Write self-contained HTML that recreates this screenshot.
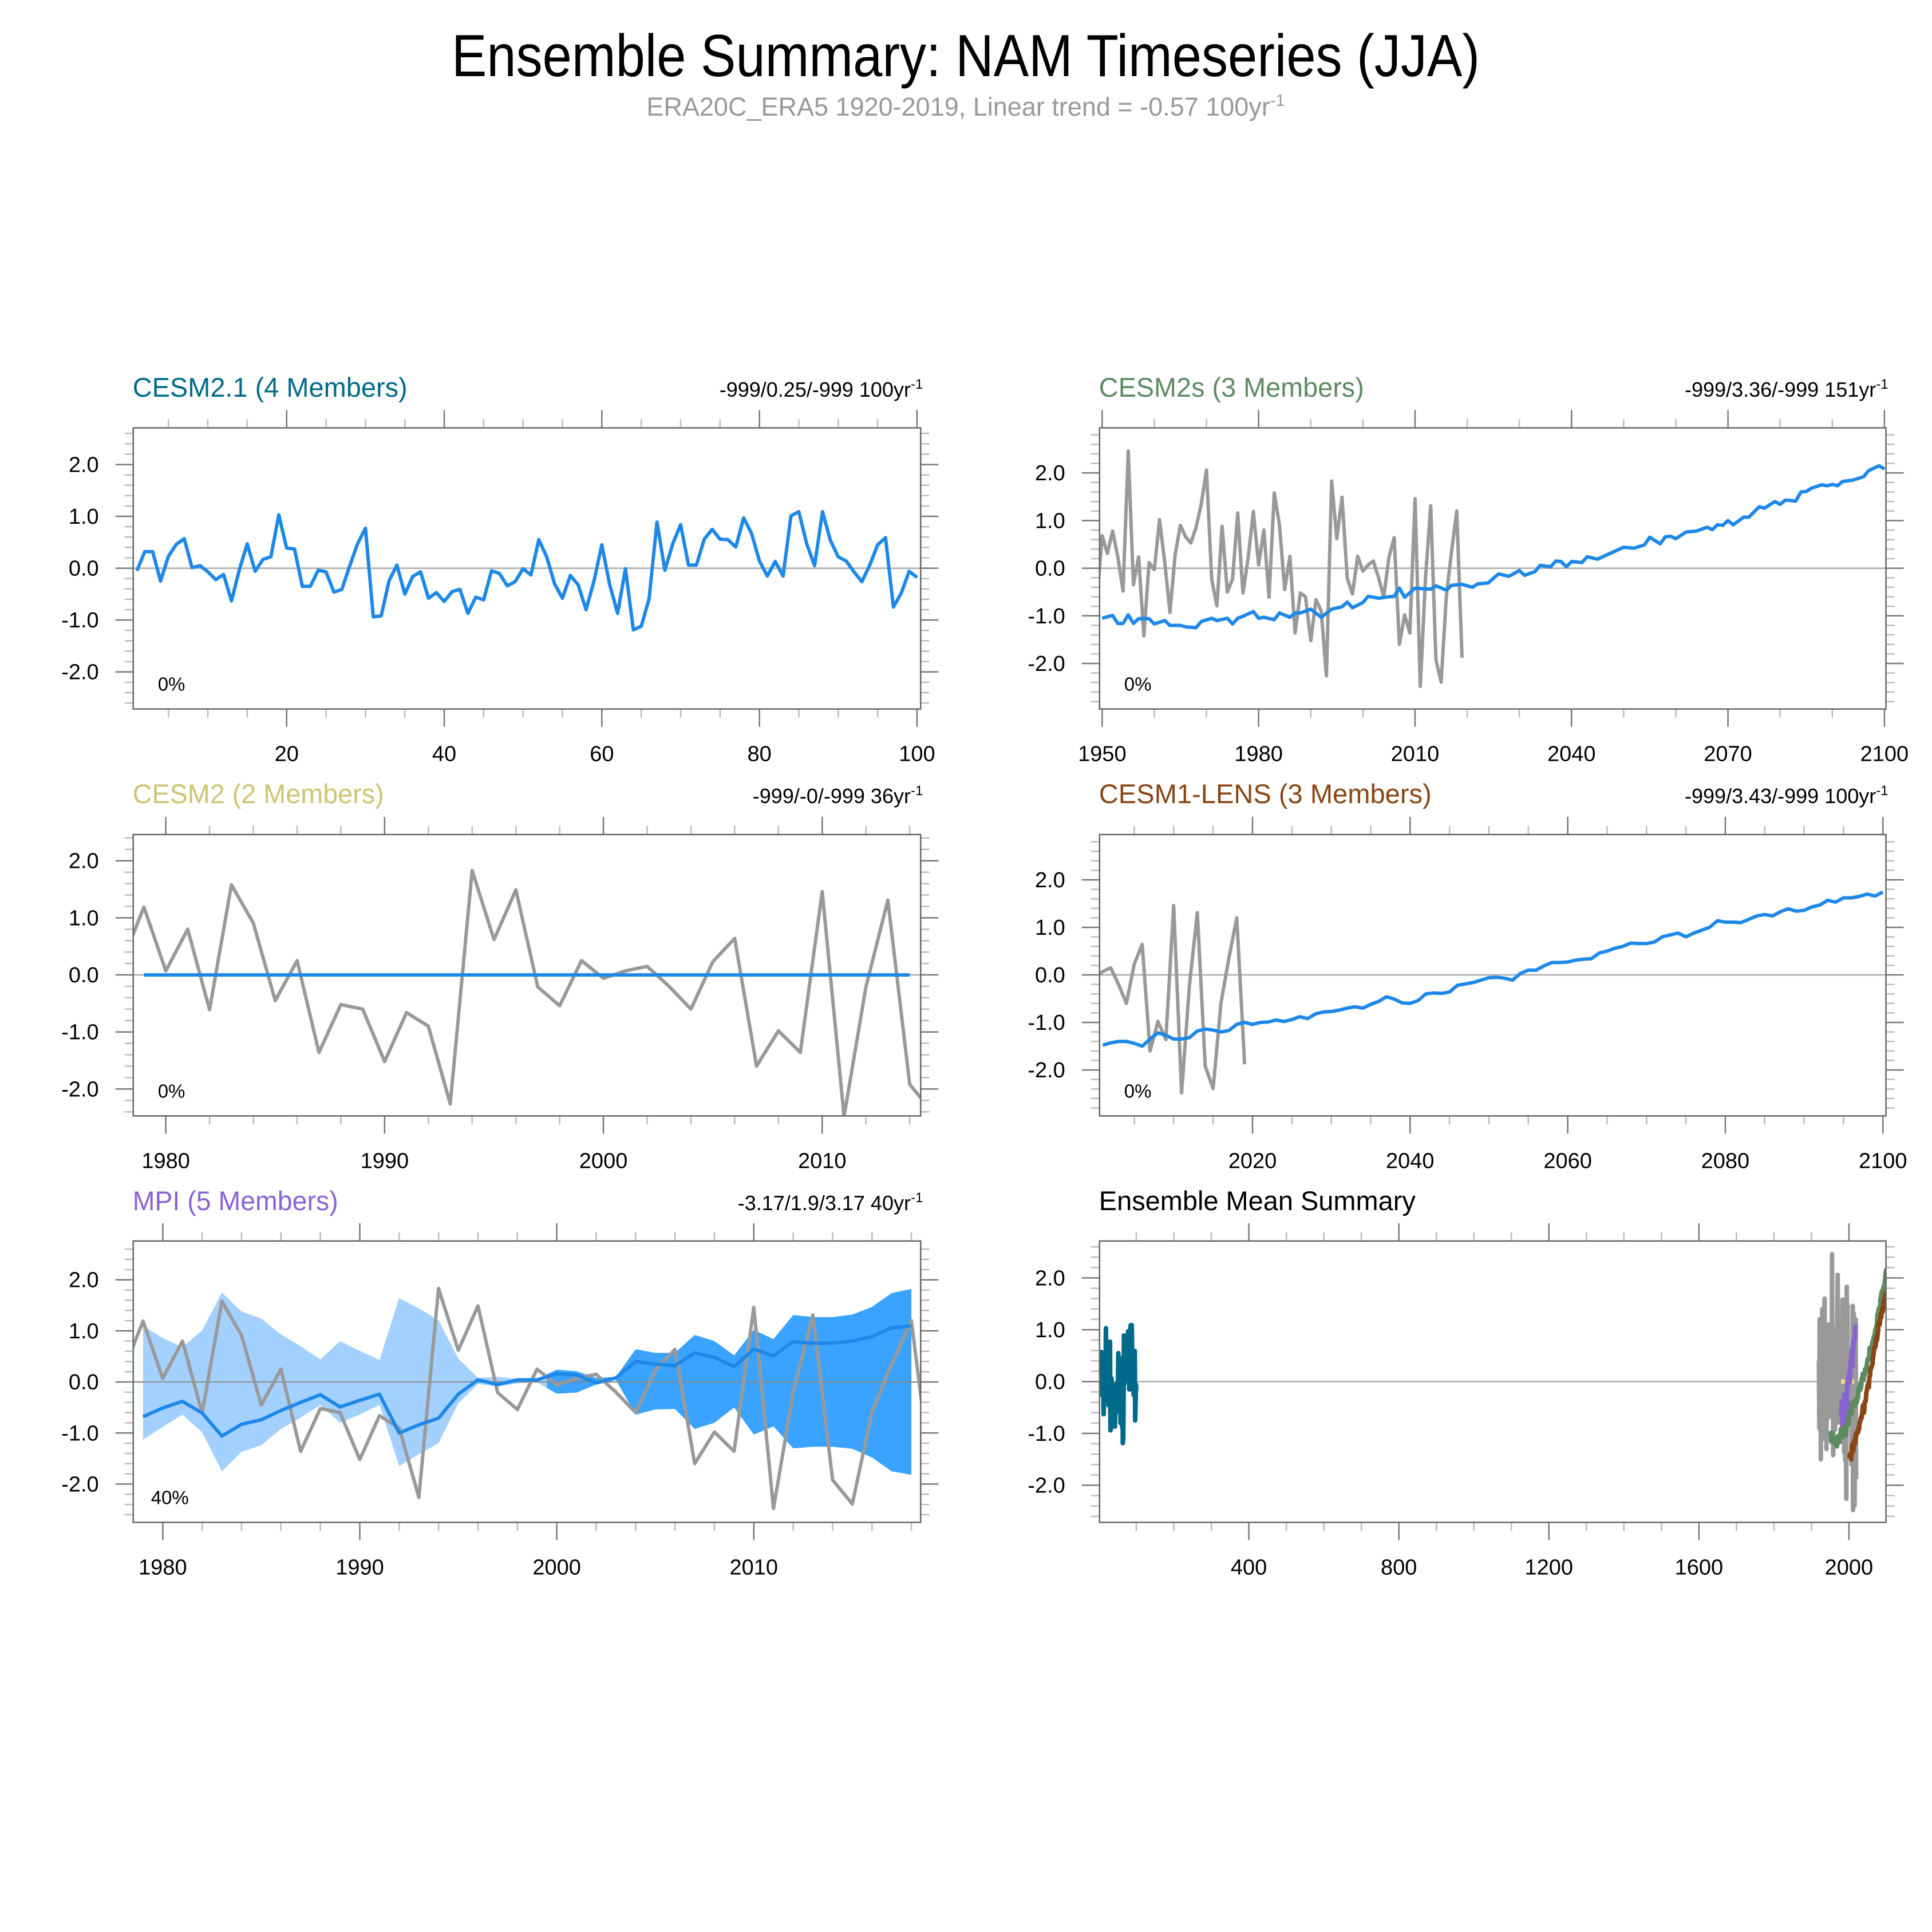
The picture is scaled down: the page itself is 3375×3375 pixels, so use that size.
<!DOCTYPE html>
<html><head><meta charset="utf-8">
<style>
html,body{margin:0;padding:0;background:#fff;}
svg{display:block;font-family:"Liberation Sans",Arial,sans-serif;}
</style></head>
<body>
<svg id="chart" width="3375" height="3375" viewBox="0 0 3375 3375" xmlns="http://www.w3.org/2000/svg">
<rect x="0" y="0" width="3375" height="3375" fill="#fff"/>
<text x="1687" y="133" text-anchor="middle" font-size="104" textLength="1796" lengthAdjust="spacingAndGlyphs" fill="#000">Ensemble Summary: NAM Timeseries (JJA)</text>
<text x="1687" y="202" text-anchor="middle" font-size="45" fill="#999">ERA20C_ERA5 1920-2019, Linear trend = -0.57 100yr<tspan dy="-17" font-size="29">-1</tspan></text>
</svg>
<script>
// ---------- data ----------
const obsStartYear = 1920;
const obsValues = [0.4,-0.9,1.2,-0.3,0.6,-1.5,0.9,0.2,-0.6,1.4,-0.2,0.5,-1.1,0.8,-0.4,1.6,0.1,-0.8,0.3,1.0,-1.3,0.7,-0.1,0.9,-0.7,1.1,0.2,-0.5,0.6,-0.67,
0.68,0.31,0.78,0.24,-0.48,2.46,-0.35,0.24,-1.42,0.12,-0.03,1.02,0.12,-0.93,0.29,0.90,0.66,0.53,0.85,1.34,2.06,-0.23,-0.79,0.88,-0.50,-0.23,1.16,-0.52,0.22,
1.19,0.07,0.80,-0.61,1.58,0.91,-0.45,0.25,-1.36,-0.52,-0.60,-1.52,-0.66,-0.90,-2.26,1.83,0.62,1.49,-0.21,-0.54,0.25,-0.06,0.07,0.15,-0.20,-0.60,0.23,0.64,-1.60,-0.98,-1.36,1.46,-2.48,-0.21,1.31,-1.92,-2.39,-0.59,0.35,1.20,-1.88];

const cesm21StartYear = 1;
const cesm21Values = [-0.05,0.32,0.32,-0.25,0.23,0.46,0.57,0.01,0.05,-0.07,-0.22,-0.12,-0.63,-0.03,0.47,-0.06,0.17,0.22,1.03,0.39,0.37,-0.35,-0.35,-0.04,-0.07,-0.46,-0.41,0.04,0.47,0.77,-0.94,-0.92,-0.24,0.06,-0.5,-0.16,-0.07,-0.58,-0.47,-0.64,-0.45,-0.41,-0.87,-0.56,-0.61,-0.05,-0.1,-0.34,-0.26,-0.01,-0.13,0.55,0.22,-0.3,-0.58,-0.14,-0.32,-0.8,-0.25,0.45,-0.32,-0.87,-0.01,-1.19,-1.12,-0.59,0.89,-0.04,0.47,0.84,0.06,0.06,0.56,0.75,0.56,0.55,0.41,0.97,0.67,0.14,-0.15,0.13,-0.15,1.01,1.09,0.47,0.05,1.09,0.54,0.22,0.14,-0.07,-0.26,0.06,0.45,0.59,-0.75,-0.48,-0.06,-0.18];

const cesm2sYears = [1950,1952,1953,1954,1955,1956,1957,1959,1960,1962,1963,1965,1966,1968,1969,1971,1972,1974,1975,1976,1977,1979,1980,1981,1983,1984,1986,1987,1988,1990,1992,1994,1996,1997,1998,2000,2001,2003,2005,2006,2007,2008,2010,2013,2014,2016,2017,2019,2021,2022,2024,2026,2028,2030,2031,2033,2034,2036,2037,2038,2039,2040,2042,2043,2045,2047,2049,2050,2052,2054,2055,2056,2057,2058,2059,2060,2062,2064,2066,2067,2068,2069,2070,2071,2073,2074,2076,2077,2079,2080,2081,2083,2084,2085,2086,2088,2089,2090,2091,2092,2094,2096,2097,2099,2100];
const cesm2sValues = [-1.05,-0.99,-1.16,-1.16,-0.98,-1.16,-1.06,-1.06,-1.17,-1.10,-1.20,-1.20,-1.23,-1.25,-1.12,-1.05,-1.10,-1.05,-1.17,-1.05,-1.01,-0.91,-1.05,-1.03,-1.08,-0.94,-1.03,-0.94,-0.94,-0.86,-1.03,-0.86,-0.81,-0.71,-0.83,-0.72,-0.59,-0.63,-0.60,-0.59,-0.42,-0.61,-0.42,-0.44,-0.37,-0.46,-0.36,-0.34,-0.40,-0.33,-0.31,-0.12,-0.17,-0.05,-0.15,-0.07,0.06,0.03,0.15,0.14,0.03,0.14,0.12,0.24,0.19,0.29,0.39,0.44,0.42,0.49,0.65,0.58,0.51,0.66,0.67,0.62,0.76,0.78,0.86,0.81,0.91,0.90,1.00,0.91,1.07,1.07,1.29,1.26,1.40,1.34,1.43,1.41,1.60,1.61,1.68,1.75,1.73,1.76,1.73,1.82,1.85,1.92,2.05,2.15,2.08];

const cesm2StartYear = 1979;
const cesm2Values = [0,0,0,0,0,0,0,0,0,0,0,0,0,0,0,0,0,0,0,0,0,0,0,0,0,0,0,0,0,0,0,0,0,0,0,0];

const lensStartYear = 2001;
const lensValues = [-1.48,-1.43,-1.40,-1.40,-1.44,-1.50,-1.35,-1.22,-1.27,-1.35,-1.35,-1.32,-1.18,-1.14,-1.16,-1.20,-1.17,-1.04,-1.00,-1.04,-1.00,-0.99,-0.95,-0.98,-0.94,-0.88,-0.92,-0.82,-0.78,-0.77,-0.74,-0.70,-0.67,-0.70,-0.62,-0.56,-0.46,-0.51,-0.59,-0.60,-0.54,-0.40,-0.38,-0.39,-0.36,-0.22,-0.19,-0.16,-0.11,-0.06,-0.05,-0.07,-0.11,0.03,0.10,0.10,0.19,0.26,0.26,0.27,0.31,0.33,0.34,0.46,0.50,0.56,0.60,0.67,0.66,0.66,0.69,0.80,0.84,0.88,0.80,0.88,0.94,1.00,1.14,1.11,1.11,1.10,1.17,1.24,1.27,1.24,1.33,1.39,1.34,1.36,1.43,1.47,1.57,1.53,1.62,1.62,1.65,1.70,1.66,1.74];

const mpiStartYear = 1979;
const mpiMean = [-0.68,-0.51,-0.38,-0.61,-1.06,-0.83,-0.74,-0.56,-0.40,-0.25,-0.49,-0.36,-0.24,-1.00,-0.84,-0.71,-0.24,0.04,-0.05,0.04,0.04,0.16,0.14,-0.02,0.08,0.40,0.35,0.32,0.57,0.48,0.30,0.64,0.51,0.79,0.76,0.76,0.80,0.89,1.06,1.10];
const mpiUpper = [1.10,0.86,0.68,1.01,1.75,1.38,1.24,0.93,0.70,0.44,0.80,0.61,0.43,1.64,1.44,1.21,0.46,0.08,0.10,0.06,0.06,0.24,0.21,0.08,0.10,0.64,0.57,0.57,0.92,0.80,0.52,1.02,0.84,1.31,1.27,1.27,1.32,1.47,1.74,1.82];
const mpiLower = [-1.13,-0.88,-0.64,-0.99,-1.75,-1.37,-1.24,-0.92,-0.70,-0.45,-0.80,-0.64,-0.45,-1.65,-1.42,-1.20,-0.42,-0.04,-0.09,-0.03,-0.01,-0.23,-0.21,-0.05,0.04,-0.64,-0.54,-0.53,-0.92,-0.80,-0.50,-1.03,-0.87,-1.30,-1.27,-1.27,-1.31,-1.48,-1.75,-1.82];

const yTickLabels = ["-2.0","-1.0","0.0","1.0","2.0"];
const yTickValues = [-2,-1,0,1,2];
const xTicksP1 = [20,40,60,80,100];
const xTicksP2 = [1950,1980,2010,2040,2070,2100];
const xTicksP3 = [1980,1990,2000,2010];
const xTicksP4 = [2020,2040,2060,2080,2100];
const xTicksP5 = [1980,1990,2000,2010];
const xTicksP6 = [400,800,1200,1600,2000];

// ---------- drawing ----------
const NS = "http://www.w3.org/2000/svg";
const svg = document.getElementById("chart");
function mk(tag, attrs, parent){
  const e = document.createElementNS(NS, tag);
  for (const k in attrs) e.setAttribute(k, attrs[k]);
  (parent||svg).appendChild(e);
  return e;
}
function seq(start, vals){ return vals.map((v,i)=>start+i); }
const obsYears = seq(obsStartYear, obsValues);

let clipId = 0;
function panel(cfg){
  const g = mk("g", {});
  
  
  const L=cfg.l, R=cfg.r, T=cfg.t, B=cfg.b;
  const sx = x => L + (x - cfg.x0)/(cfg.x1 - cfg.x0)*(R-L);
  const sy = v => T + (cfg.y1 - v)/(cfg.y1 - cfg.y0)*(B-T);
  const cid = "clip"+(clipId++);
  const cp = mk("clipPath", {id:cid}, g);
  mk("rect", {x:L,y:T,width:R-L,height:B-T}, cp);
  if (cfg.title){
    const t = mk("text", {x:L-1, y:cfg.titleY, "font-size":47, fill:cfg.titleColor, textLength:cfg.titleW, lengthAdjust:"spacingAndGlyphs"}, g);
    t.textContent = cfg.title;
    
    
  }
  if (cfg.info){
    const t = mk("text", {x:R+4, y:cfg.titleY, "font-size":36, fill:"#000", "text-anchor":"end"}, g);
    t.textContent = cfg.info;
    const sp = mk("tspan", {dy:-14, "font-size":24}, t);
    sp.textContent = "-1";
    
    
  }
  for (let k=-30;k<=30;k++){
    const v=k*0.2; if (v<cfg.y0||v>cfg.y1) continue;
    const major = Math.abs(v-Math.round(v))<1e-6;
    const len = major?31:15, col = major?"#777":"#bbb";
    mk("line",{x1:L-len,x2:L,y1:sy(v),y2:sy(v),stroke:col,"stroke-width":2.5},g);
    mk("line",{x1:R,x2:R+len,y1:sy(v),y2:sy(v),stroke:col,"stroke-width":2.5},g);
  }
  for (let v=Math.ceil(cfg.x0/cfg.minor)*cfg.minor; v<=cfg.x1; v+=cfg.minor){
    const major = Math.abs(v/cfg.major - Math.round(v/cfg.major))<1e-6;
    const len = major?31:15, col = major?"#777":"#bbb";
    mk("line",{x1:sx(v),x2:sx(v),y1:T-len,y2:T,stroke:col,"stroke-width":2.5},g);
    mk("line",{x1:sx(v),x2:sx(v),y1:B,y2:B+len,stroke:col,"stroke-width":2.5},g);
  }
  yTickValues.forEach((v,i)=>{
    const t = mk("text",{x:L-60,y:sy(v)+13,"font-size":38,"text-anchor":"end",fill:"#000"},g);
    t.textContent = yTickLabels[i];
    
    
  });
  cfg.xticks.forEach(v=>{
    const t = mk("text",{x:sx(v),y:B+91,"font-size":38,"text-anchor":"middle",fill:"#000"},g);
    t.textContent = String(v);
    
    
  });
  const z = mk("line",{x1:L,x2:R,y1:sy(0),y2:sy(0),stroke:"#aaa","stroke-width":2.5},g);
  
  
  const plot = mk("g",{"clip-path":"url(#"+cid+")"},g);
  cfg.draw(plot, sx, sy);
  const fr = mk("rect",{x:L,y:T,width:R-L,height:B-T,fill:"none",stroke:"#666","stroke-width":2.5},g);
  
  
  if (cfg.pct){
    const t = mk("text",{x:L+cfg.pctX,y:B-32,"font-size":33,fill:"#000"},g);
    t.textContent = cfg.pct;
    
    
  }
}
function line(parent, xs, ys, sx, sy, color, w, name){
  const d = xs.map((x,i)=>(i?"L":"M")+sx(x).toFixed(1)+","+sy(ys[i]).toFixed(1)).join("");
  const p = mk("path",{d:d,fill:"none",stroke:color,"stroke-width":w,"stroke-linejoin":"round"},parent);
  
  
  return p;
}
const BLUE="#1e88e8", GRAY="#999";
const colL=232.7, colR=1608.3, colL2=1920.8, colR2=3294.6;
const r1t=747.4,r1b=1238.6,r2t=1457.9,r2b=1949.4,r3t=2167.9,r3b=2659.4;

panel({name:"cesm21-panel",l:colL,r:colR,t:r1t,b:r1b,x0:0.53,x1:100.46,y0:-2.716,y1:2.707,major:20,minor:5,xticks:xTicksP1,
  title:"CESM2.1 (4 Members)",titleColor:"#006a8a",titleW:480,titleY:693,info:"-999/0.25/-999 100yr",pct:"0%",pctX:43,
  draw:(g,sx,sy)=>{ line(g, seq(cesm21StartYear,cesm21Values), cesm21Values, sx, sy, BLUE, 6, "cesm21-mean-line"); }});

panel({name:"cesm2s-panel",l:colL2,r:colR2,t:r1t,b:r1b,x0:1949.5,x1:2100.3,y0:-2.956,y1:2.946,major:30,minor:10,xticks:xTicksP2,
  title:"CESM2s (3 Members)",titleColor:"#5e8a62",titleW:463,titleY:693,info:"-999/3.36/-999 151yr",pct:"0%",pctX:43,
  draw:(g,sx,sy)=>{ line(g, obsYears, obsValues, sx, sy, GRAY, 6, "observed-line"); line(g, cesm2sYears, cesm2sValues, sx, sy, BLUE, 6, "cesm2s-mean-line"); }});

panel({name:"cesm2-panel",l:colL,r:colR,t:r2t,b:r2b,x0:1978.51,x1:2014.5,y0:-2.472,y1:2.46,major:10,minor:2,xticks:xTicksP3,
  title:"CESM2 (2 Members)",titleColor:"#cfc471",titleW:439,titleY:1403,info:"-999/-0/-999 36yr",pct:"0%",pctX:43,
  draw:(g,sx,sy)=>{ line(g, obsYears, obsValues, sx, sy, GRAY, 6, "observed-line"); line(g, seq(cesm2StartYear,cesm2Values), cesm2Values, sx, sy, BLUE, 6, "cesm2-mean-line"); }});

panel({name:"cesm1-lens-panel",l:colL2,r:colR2,t:r2t,b:r2b,x0:2000.59,x1:2100.39,y0:-2.967,y1:2.952,major:20,minor:5,xticks:xTicksP4,
  title:"CESM1-LENS (3 Members)",titleColor:"#8b4513",titleW:581,titleY:1403,info:"-999/3.43/-999 100yr",pct:"0%",pctX:43,
  draw:(g,sx,sy)=>{ line(g, obsYears, obsValues, sx, sy, GRAY, 6, "observed-line"); line(g, seq(lensStartYear,lensValues), lensValues, sx, sy, BLUE, 6, "lens-mean-line"); }});

panel({name:"mpi-panel",l:colL,r:colR,t:r3t,b:r3b,x0:1978.5,x1:2018.47,y0:-2.75,y1:2.76,major:10,minor:2,xticks:xTicksP5,
  title:"MPI (5 Members)",titleColor:"#8a63d2",titleW:359,titleY:2114,info:"-3.17/1.9/3.17 40yr",pct:"40%",pctX:31,
  draw:(g,sx,sy)=>{
    const yrs = seq(mpiStartYear, mpiMean);
    const d = yrs.map((y,i)=>(i?"L":"M")+sx(y).toFixed(1)+","+sy(mpiUpper[i]).toFixed(1)).join("") +
      yrs.slice().reverse().map((y,j)=>"L"+sx(y).toFixed(1)+","+sy(mpiLower[yrs.length-1-j]).toFixed(1)).join("")+"Z";
    const split = sx(1999.5);
    const c1 = mk("clipPath",{id:"mpiA"},g); mk("rect",{x:0,y:0,width:split,height:3375},c1);
    const c2 = mk("clipPath",{id:"mpiB"},g); mk("rect",{x:split,y:0,width:3375,height:3375},c2);
    const b1 = mk("path",{d:d,fill:"#a3d1ff","clip-path":"url(#mpiA)"},g);
    
    
    const b2 = mk("path",{d:d,fill:"#3aa3ff","clip-path":"url(#mpiB)"},g);
    
    
    mk("line",{x1:0,x2:3375,y1:sy(0),y2:sy(0),stroke:"#888","stroke-width":2},g);
    line(g, obsYears, obsValues, sx, sy, GRAY, 6, "observed-line");
    line(g, yrs, mpiMean, sx, sy, BLUE, 6, "mpi-mean-line");
  }});

panel({name:"ensemble-mean-summary-panel",l:colL2,r:colR2,t:r3t,b:r3b,x0:2,x1:2098.7,y0:-2.716,y1:2.712,major:400,minor:100,xticks:xTicksP6,
  title:"Ensemble Mean Summary",titleColor:"#000",titleW:553,titleY:2114,info:null,pct:null,
  draw:(g,sx,sy)=>{
    line(g, obsYears, obsValues, sx, sy, GRAY, 8, "summary-observed-line");
    line(g, seq(cesm21StartYear,cesm21Values), cesm21Values, sx, sy, "#006a8a", 8, "summary-cesm21-line");
    line(g, seq(cesm2StartYear,cesm2Values), cesm2Values, sx, sy, "#e8df7a", 8, "summary-cesm2-line");
    line(g, seq(mpiStartYear,mpiMean), mpiMean, sx, sy, "#8a63d2", 8, "summary-mpi-line");
    line(g, cesm2sYears, cesm2sValues, sx, sy, "#5e8a62", 8, "summary-cesm2s-line");
    line(g, seq(lensStartYear,lensValues), lensValues, sx, sy, "#8b4513", 8, "summary-lens-line");
  }});
</script>
</body></html>
